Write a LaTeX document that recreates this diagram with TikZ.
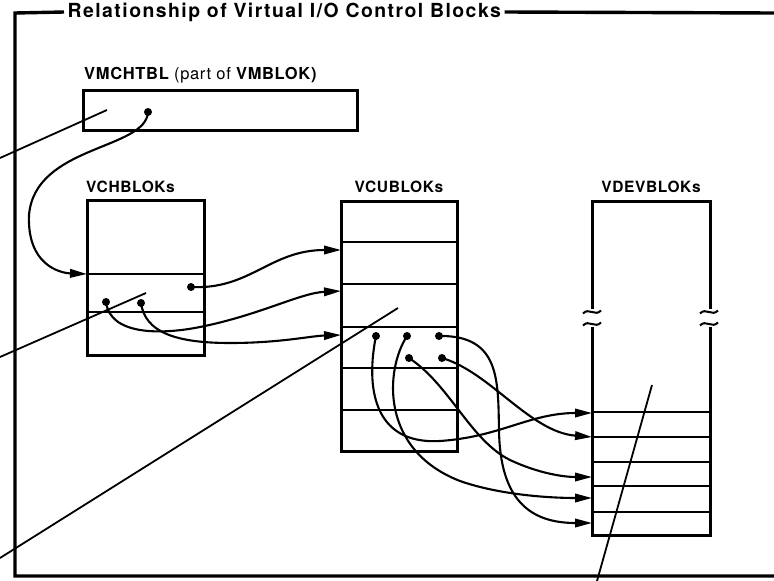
\documentclass[tikz,border=0pt]{standalone}
\usepackage{fontspec}
\setmainfont{TeX Gyre Heros}
\newfontfamily\lblfont[LetterSpace=4]{TeX Gyre Heros}
\newfontfamily\ttlfont[LetterSpace=7.5]{TeX Gyre Heros}
\usetikzlibrary{arrows.meta}
\begin{document}
\begin{tikzpicture}[x=1pt,y=-1pt,
  frameline/.style={line width=3.4pt},
  box/.style={draw, line width=3pt, inner sep=0pt, outer sep=0pt},
  rowline/.style={line width=2.3pt},
  conn/.style={line width=2.1pt},
  arr/.style={conn, -{Triangle[length=17pt,width=8.5pt]}},
  leader/.style={line width=1.8pt},
  dot/.style={circle, fill, inner sep=0pt, minimum size=8pt},
  lbl/.style={font=\lblfont\bfseries\fontsize{15.5}{17}\selectfont, inner sep=0pt},
  brk/.style={line width=2pt}]
\useasboundingbox (0,0) rectangle (774,581);

% title and frame
\node[anchor=west, inner sep=3.5pt, font=\ttlfont\bfseries\fontsize{19.4}{21}\selectfont] (title) at (64,12) {Relationship of Virtual I/O Control Blocks};
\coordinate (ftl) at (15,13);
\coordinate (fbl) at (15,576);
\coordinate (fbr) at (774,576);
\coordinate (ftr) at (774,13);
\draw[frameline] (title.west) -- (ftl) -- (fbl) -- (fbr);
\draw[frameline] (title.east) -- (ftr);

% VMCHTBL
\node[lbl, font=\lblfont\bfseries\fontsize{16.5}{18}\selectfont, anchor=base west] (lvm) at (84,79) {VMCHTBL {\mdseries (part of} VMBLOK)};
\node[box, minimum width=274pt, minimum height=40pt] (vmch) at (220,110) {};

% VCHBLOKs
\node[lbl, anchor=base west] (lch) at (86,192) {VCHBLOKs};
\node[box, minimum width=117pt, minimum height=155pt] (vch) at (145.5,277.5) {};
\draw[rowline] (87,274) -- (204,274);
\draw[rowline] (87,312) -- (204,312);

% VCUBLOKs
\node[lbl, anchor=base] (lcu) at (399,192) {VCUBLOKs};
\node[box, minimum width=116pt, minimum height=250pt] (vcu) at (399,326) {};
\foreach \y in {242,284,327,368,410} \draw[rowline] (341,\y) -- (457,\y);

% VDEVBLOKs
\node[lbl, anchor=base] (ldev) at (651,192) {VDEVBLOKs};
\draw[box] (592,309) -- (592,201) -- (710,201) -- (710,309);
\draw[box] (592,327) -- (592,535) -- (710,535) -- (710,327);
\foreach \y in {412,437,462,486,512} \draw[rowline] (592,\y) -- (710,\y);
\foreach \x in {592,709} {
  \draw[brk] (\x-9,313.5) .. controls (\x-3,307) and (\x+3,317) .. (\x+9,310.5);
  \draw[brk] (\x-9,325.5) .. controls (\x-3,319) and (\x+3,329) .. (\x+9,322.5);
}

% dots
\node[dot] (d0) at (148,112) {};
\node[dot] (d1) at (191,287) {};
\node[dot] (d2) at (106,302) {};
\node[dot] (d3) at (141,303) {};
\node[dot] (dA) at (376,336) {};
\node[dot] (dB) at (407,336) {};
\node[dot] (dC) at (439,336) {};
\node[dot] (dD) at (409,358) {};
\node[dot] (dE) at (442,358) {};

% arrow targets
\coordinate (h1) at (87,274);
\coordinate (u1) at (341,250);
\coordinate (u2) at (341,291);
\coordinate (u3) at (341,335);
\coordinate (v1) at (592,413);
\coordinate (v2) at (592,437);
\coordinate (v3) at (592,477);
\coordinate (v4) at (592,498);
\coordinate (v5) at (592,523);

% connectors
\draw[arr] (d0.center) .. controls (146,150) and (35,145) .. (29,215) .. controls (27,265) and (60,273) .. (h1);
\draw[arr] (d1.center) .. controls (250,290) and (270,250) .. (u1);
\draw[arr] (d2.center) .. controls (110,335) and (160,335) .. (200,327) .. controls (260,315) and (300,293) .. (u2);
\draw[arr] (d3.center) .. controls (145,332) and (175,343) .. (230,343) .. controls (280,343) and (310,336) .. (u3);
\draw[arr] (dA.center) .. controls (366,385) and (372,445) .. (440,441) .. controls (500,437) and (530,413) .. (v1);
\draw[arr] (dB.center) .. controls (385,370) and (380,450) .. (460,481) .. controls (500,495) and (550,498) .. (v4);
\draw[arr] (dC.center) .. controls (500,335) and (498,380) .. (499,430) .. controls (500,500) and (530,523) .. (v5);
\draw[arr] (dD.center) .. controls (450,385) and (470,440) .. (510,460) .. controls (540,474) and (565,477) .. (v3);
\draw[arr] (dE.center) .. controls (490,372) and (530,432) .. (v2);

% leader lines
\coordinate (l1) at (107,110); \coordinate (l1e) at (0,158);
\coordinate (l2) at (146,293); \coordinate (l2e) at (0,357);
\coordinate (l3) at (398,308); \coordinate (l3e) at (0,558);
\coordinate (l4) at (652,385); \coordinate (l4e) at (597,581);
\draw[leader] (l1) -- (l1e);
\draw[leader] (l2) -- (l2e);
\draw[leader] (l3) -- (l3e);
\draw[leader] (l4) -- (l4e);
\end{tikzpicture}
\end{document}
